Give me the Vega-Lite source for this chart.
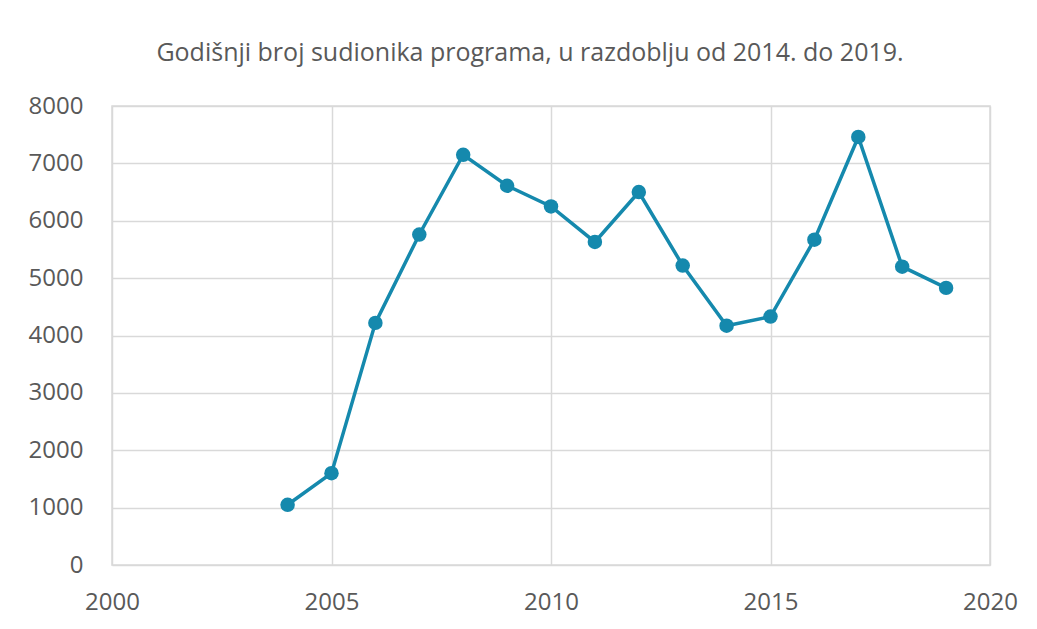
{
  "$schema": "https://vega.github.io/schema/vega-lite/v6.json",
  "autosize": {"type": "none"},
  "width": 878,
  "height": 459,
  "padding": {"left": 112, "top": 106, "right": 47, "bottom": 64},
  "background": "white",
  "title": {
    "text": "Godišnji broj sudionika programa, u razdoblju od 2014. do 2019.",
    "font": "Open Sans",
    "fontSize": 25,
    "fontWeight": "normal",
    "color": "#595959",
    "anchor": "middle",
    "frame": "group",
    "dx": -21,
    "offset": 28
  },
  "config": {
    "view": {"stroke": "#d9d9d9", "strokeWidth": 1.5},
    "axis": {
      "labelFont": "Open Sans",
      "labelFontSize": 24,
      "labelColor": "#595959",
      "gridColor": "#d9d9d9",
      "gridWidth": 1.5,
      "domain": false,
      "ticks": false,
      "title": null
    }
  },
  "data": {
    "values": [
      {"year": 2004, "count": 1050},
      {"year": 2005, "count": 1600},
      {"year": 2006, "count": 4220},
      {"year": 2007, "count": 5760},
      {"year": 2008, "count": 7150},
      {"year": 2009, "count": 6610},
      {"year": 2010, "count": 6250},
      {"year": 2011, "count": 5630},
      {"year": 2012, "count": 6500},
      {"year": 2013, "count": 5220},
      {"year": 2014, "count": 4170},
      {"year": 2015, "count": 4330},
      {"year": 2016, "count": 5670},
      {"year": 2017, "count": 7460},
      {"year": 2018, "count": 5200},
      {"year": 2019, "count": 4830}
    ]
  },
  "mark": {"type": "line", "color": "#1589ad", "strokeWidth": 3.5, "point": {"filled": true, "size": 210, "color": "#1589ad", "opacity": 1}},
  "encoding": {
    "x": {
      "field": "year",
      "type": "quantitative",
      "scale": {"domain": [2000, 2020], "nice": false, "zero": false},
      "axis": {"values": [2000, 2005, 2010, 2015, 2020], "format": "d", "labelPadding": 25, "labelFlush": false}
    },
    "y": {
      "field": "count",
      "type": "quantitative",
      "scale": {"domain": [0, 8000], "nice": false},
      "axis": {"values": [0, 1000, 2000, 3000, 4000, 5000, 6000, 7000, 8000], "format": "d", "labelPadding": 29}
    }
  }
}
